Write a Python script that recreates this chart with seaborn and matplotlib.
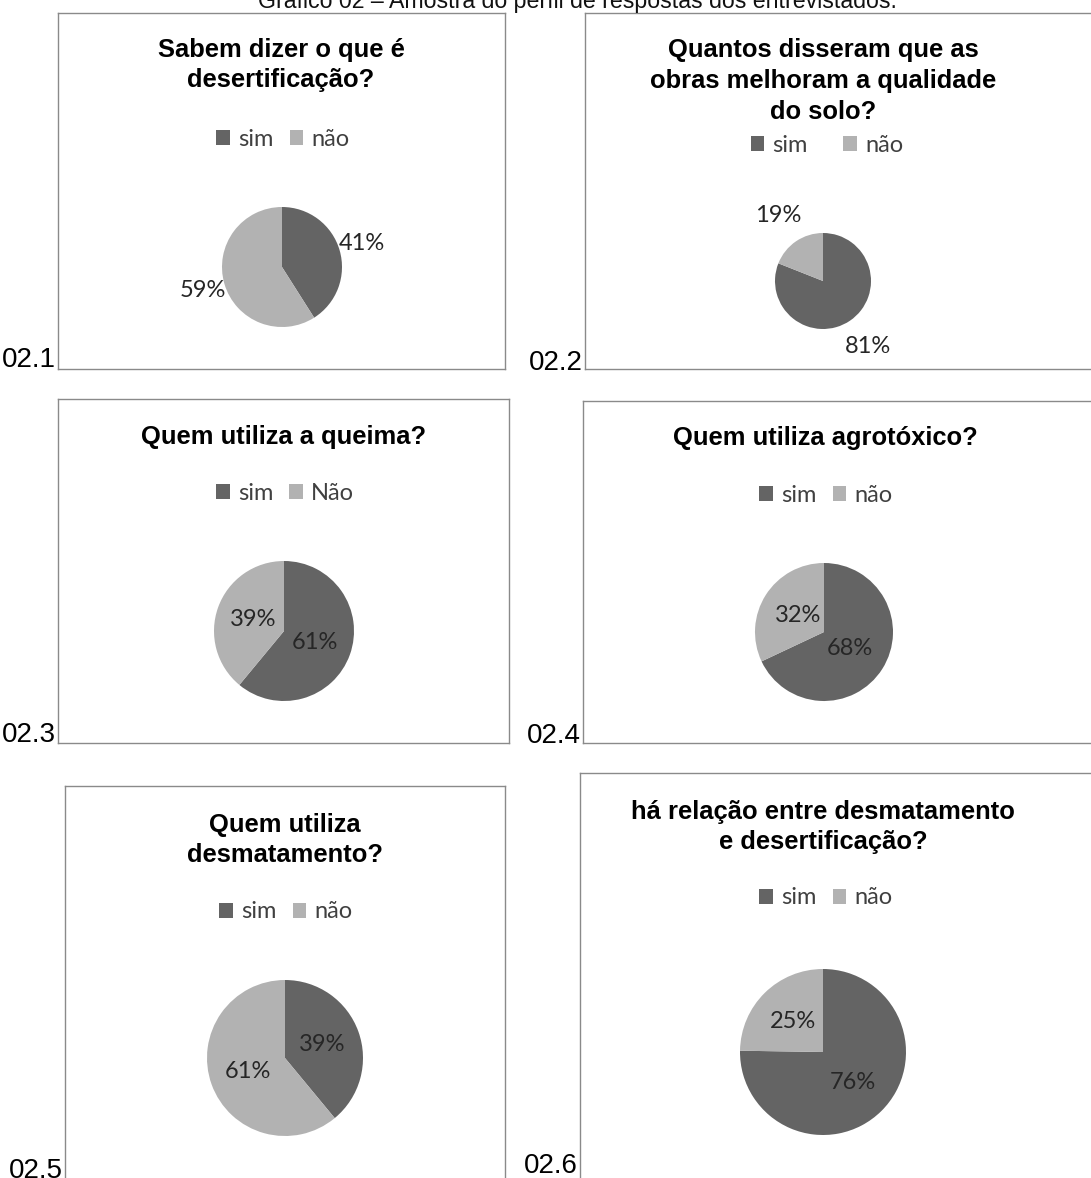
import matplotlib
matplotlib.use("Agg")
import matplotlib.pyplot as plt
from matplotlib.patches import Patch
import seaborn as sns

# ---- data -------------------------------------------------------------
titles = [
    "Sabem dizer o que é\ndesertificação?",
    "Quantos disseram que as\nobras melhoram a qualidade\ndo solo?",
    "Quem utiliza a queima?",
    "Quem utiliza agrotóxico?",
    "Quem utiliza\ndesmatamento?",
    "há relação entre desmatamento\ne desertificação?",
]
sim_values = [41, 81, 61, 68, 39, 76]
nao_values = [59, 19, 39, 32, 61, 25]
legend_labels = [
    ("sim", "não"),
    ("sim", "não"),
    ("sim", "Não"),
    ("sim", "não"),
    ("sim", "não"),
    ("sim", "não"),
]
panel_tags = ["02.1", "02.2", "02.3", "02.4", "02.5", "02.6"]
figure_title = "Gráfico 02 – Amostra do perfil de respostas dos entrevistados."

# ---- layout (pixels) --------------------------------------------------
W, H = 1091, 1178
layout = [
    # box (x0, y0, x1, y1), title centre (x, y), legend centre (x, y),
    # legend column gap, pie centre + radius, label distance, tag baseline y
    dict(box=(58, 13, 505, 369), title=(281, 65), leg=(283, 139), gap=0.68,
         pie=(282, 267, 60), dist=1.38, tag=367),
    dict(box=(585, 13, 1110, 369), title=(823, 81), leg=(827, 145), gap=1.5,
         pie=(823, 281, 48), dist=1.65, tag=370),
    dict(box=(58, 399, 509, 743), title=(284, 437), leg=(285, 493), gap=0.68,
         pie=(284, 631, 70), dist=0.47, tag=742),
    dict(box=(583, 401, 1110, 743), title=(825, 438), leg=(826, 495), gap=0.68,
         pie=(824, 632, 69), dist=0.45, tag=743),
    dict(box=(65, 786, 505, 1200), title=(285, 840), leg=(286, 912), gap=0.68,
         pie=(285, 1058, 78), dist=0.5, tag=1178),
    dict(box=(580, 773, 1110, 1200), title=(823, 827), leg=(826, 898), gap=0.68,
         pie=(823, 1052, 83), dist=0.52, tag=1173),
]

DARK = "#646464"
LIGHT = "#b2b2b2"
BORDER = "#8a8a8a"

sns.set_theme(style="white")
plt.rcParams["font.family"] = ["Liberation Sans", "DejaVu Sans"]

fig = plt.figure(figsize=(W / 100, H / 100), dpi=100)
fig.patch.set_facecolor("white")


def fx(x):
    return x / W


def fy(y):
    return 1 - y / H


# caption across the top, running off the upper edge
fig.text(fx(577), fy(8), figure_title, ha="center", va="baseline",
         fontsize=16.7, color="#111111")

for i in range(6):
    lay = layout[i]
    x0, y0, x1, y1 = lay["box"]

    # chart frame
    box = fig.add_axes([fx(x0), fy(y1), (x1 - x0) / W, (y1 - y0) / H])
    box.set_xticks([])
    box.set_yticks([])
    box.set_facecolor("none")
    for sp in box.spines.values():
        sp.set_color(BORDER)
        sp.set_linewidth(1.0)

    # chart title
    tx, ty = lay["title"]
    fig.text(fx(tx), fy(ty), titles[i], ha="center", va="center",
             fontsize=18.4, fontweight="bold", color="#000000",
             linespacing=1.35)

    # legend
    handles = [Patch(facecolor=DARK, edgecolor="none"),
               Patch(facecolor=LIGHT, edgecolor="none")]
    lx, ly = lay["leg"]
    leg = box.legend(handles, list(legend_labels[i]), ncol=2, frameon=False,
                     loc="center", bbox_to_anchor=(fx(lx), fy(ly)),
                     bbox_transform=fig.transFigure,
                     handlelength=0.58, handleheight=0.58, handletextpad=0.35,
                     columnspacing=lay["gap"], borderpad=0, borderaxespad=0,
                     prop={"family": ["Lato", "DejaVu Sans"], "size": 17})
    for t in leg.get_texts():
        t.set_color("#404040")

    # pie
    cx, cy, r = lay["pie"]
    pax = fig.add_axes([fx(cx - r), fy(cy + r), 2 * r / W, 2 * r / H])
    vals = [sim_values[i], nao_values[i]]
    it = iter(vals)
    pax.pie(
        vals, colors=[DARK, LIGHT], startangle=90, counterclock=False,
        radius=1.0, autopct=lambda p, it=it: f"{next(it)}%",
        pctdistance=lay["dist"], wedgeprops=dict(linewidth=0),
        textprops=dict(family=["Lato", "DejaVu Sans"], size=17,
                       color="#262626"))
    pax.set_xlim(-1, 1)
    pax.set_ylim(-1, 1)
    pax.set_aspect("equal")
    pax.axis("off")

    # panel tag beside the frame
    fig.text(fx(x0 - 2), fy(lay["tag"]), panel_tags[i], ha="right",
             va="baseline", fontsize=20, color="#000000",
             family=["Liberation Sans Narrow", "Liberation Sans"],
             stretch="condensed")

fig.savefig("out.png", dpi=100, facecolor="white")
